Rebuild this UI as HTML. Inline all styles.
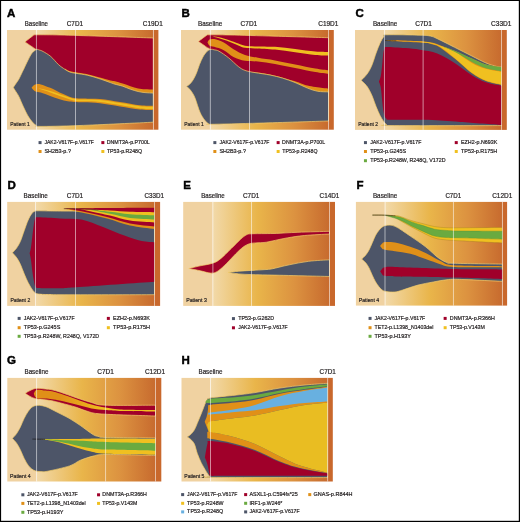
<!DOCTYPE html>
<html><head><meta charset="utf-8"><style>
html,body{margin:0;padding:0;background:#fff;width:520px;height:522px;overflow:hidden}
svg{display:block}
text{font-family:"Liberation Sans",sans-serif}
svg{will-change:transform}
</style></head><body>
<svg width="520" height="522" viewBox="0 0 520 522">
<defs><linearGradient id="gOY" x1="60" y1="0" x2="106" y2="0" gradientUnits="userSpaceOnUse"><stop offset="0" stop-color="#e09018"/><stop offset="1" stop-color="#f0c020"/></linearGradient><linearGradient id="g1" x1="36.50" y1="0" x2="153.85" y2="0" gradientUnits="userSpaceOnUse"><stop offset="0" stop-color="#f2d9a9"/><stop offset="0.38" stop-color="#e9b54a"/><stop offset="0.7" stop-color="#dc9240"/><stop offset="1" stop-color="#c76a2e"/></linearGradient><linearGradient id="g2" x1="210.30" y1="0" x2="328.95" y2="0" gradientUnits="userSpaceOnUse"><stop offset="0" stop-color="#f2d9a9"/><stop offset="0.38" stop-color="#e9b54a"/><stop offset="0.7" stop-color="#dc9240"/><stop offset="1" stop-color="#c76a2e"/></linearGradient><linearGradient id="g3" x1="384.20" y1="0" x2="501.95" y2="0" gradientUnits="userSpaceOnUse"><stop offset="0" stop-color="#f2d9a9"/><stop offset="0.38" stop-color="#e9b54a"/><stop offset="0.7" stop-color="#dc9240"/><stop offset="1" stop-color="#c76a2e"/></linearGradient><linearGradient id="g4" x1="35.70" y1="0" x2="154.95" y2="0" gradientUnits="userSpaceOnUse"><stop offset="0" stop-color="#f2d9a9"/><stop offset="0.38" stop-color="#e9b54a"/><stop offset="0.7" stop-color="#dc9240"/><stop offset="1" stop-color="#c76a2e"/></linearGradient><linearGradient id="g5" x1="212.80" y1="0" x2="329.95" y2="0" gradientUnits="userSpaceOnUse"><stop offset="0" stop-color="#f2d9a9"/><stop offset="0.38" stop-color="#e9b54a"/><stop offset="0.7" stop-color="#dc9240"/><stop offset="1" stop-color="#c76a2e"/></linearGradient><linearGradient id="g6" x1="385.20" y1="0" x2="502.85" y2="0" gradientUnits="userSpaceOnUse"><stop offset="0" stop-color="#f2d9a9"/><stop offset="0.38" stop-color="#e9b54a"/><stop offset="0.7" stop-color="#dc9240"/><stop offset="1" stop-color="#c76a2e"/></linearGradient><linearGradient id="g7" x1="36.80" y1="0" x2="155.95" y2="0" gradientUnits="userSpaceOnUse"><stop offset="0" stop-color="#f2d9a9"/><stop offset="0.38" stop-color="#e9b54a"/><stop offset="0.7" stop-color="#dc9240"/><stop offset="1" stop-color="#c76a2e"/></linearGradient><linearGradient id="g8" x1="210.30" y1="0" x2="328.05" y2="0" gradientUnits="userSpaceOnUse"><stop offset="0" stop-color="#f2d9a9"/><stop offset="0.38" stop-color="#e9b54a"/><stop offset="0.7" stop-color="#dc9240"/><stop offset="1" stop-color="#c76a2e"/></linearGradient></defs>
<rect x="0" y="0" width="520" height="522" fill="#000"/><rect x="1.1" y="1" width="517.7" height="519.8" fill="#fff"/>
<g transform="translate(7.02,16.50) scale(0.100)"><text x="0" y="0" font-size="115.00" font-weight="bold" fill="#000" text-anchor="start" stroke="#000" stroke-width="4.5">A</text></g><rect x="7.00" y="30.00" width="29.50" height="99.70" fill="#f0d2a1"/><rect x="36.50" y="30.00" width="117.35" height="99.70" fill="url(#g1)"/><rect x="153.85" y="30.00" width="4.55" height="99.70" fill="#c9682c"/><path d="M25.00,41.90 C26.47,40.75 32.33,36.15 33.80,35.00 C34.32,34.97 32.53,34.80 36.90,34.80 C41.27,34.80 49.48,34.77 60.00,35.00 C70.52,35.23 84.45,35.70 100.00,36.20 C115.55,36.70 144.42,37.70 153.30,38.00 L153.30,96.00 C137.75,93.33 78.05,86.00 60.00,80.00 C41.95,74.00 48.97,65.07 45.00,60.00 C41.03,54.93 37.67,51.33 36.20,49.60 C34.33,48.32 26.87,43.18 25.00,41.90 Z" fill="#a0002a" stroke="#f2cc6a" stroke-width="0.7"/><path d="M65.00,68.60 C65.83,69.03 66.28,70.27 70.00,71.20 C73.72,72.13 82.50,73.18 87.30,74.20 C92.10,75.22 94.95,76.25 98.80,77.30 C102.65,78.35 107.70,79.85 110.40,80.50 C113.10,81.15 112.95,80.70 115.00,81.20 C117.05,81.70 120.13,82.67 122.70,83.50 C125.27,84.33 127.83,85.37 130.40,86.20 C132.97,87.03 135.67,87.98 138.10,88.50 C140.53,89.02 142.47,89.12 145.00,89.30 C147.53,89.48 151.92,89.55 153.30,89.60 L153.30,94.10 C151.92,94.02 147.53,93.87 145.00,93.60 C142.47,93.33 140.53,93.07 138.10,92.50 C135.67,91.93 132.97,91.08 130.40,90.20 C127.83,89.32 125.27,88.03 122.70,87.20 C120.13,86.37 117.05,85.80 115.00,85.20 C112.95,84.60 113.10,84.55 110.40,83.60 C107.70,82.65 102.65,80.73 98.80,79.50 C94.95,78.27 92.10,77.27 87.30,76.20 C82.50,75.13 73.72,74.07 70.00,73.10 C66.28,72.13 65.83,70.85 65.00,70.40 Z" fill="#e09018"/><path d="M13.30,87.50 C13.63,86.98 14.38,85.78 15.30,84.40 C16.22,83.02 17.65,81.22 18.80,79.20 C19.95,77.18 21.37,74.00 22.20,72.30 C23.03,70.60 22.88,70.92 23.80,69.00 C24.72,67.08 26.42,63.33 27.70,60.80 C28.98,58.27 30.08,55.67 31.50,53.80 C32.92,51.93 34.92,50.23 36.20,49.60 C37.48,48.97 38.05,49.68 39.20,50.00 C40.35,50.32 41.17,50.42 43.10,51.50 C45.03,52.58 48.23,54.32 50.80,56.50 C53.37,58.68 56.13,62.45 58.50,64.60 C60.87,66.75 63.08,68.15 65.00,69.40 C66.92,70.65 68.20,71.45 70.00,72.10 C71.80,72.75 72.92,72.78 75.80,73.30 C78.68,73.82 83.47,74.33 87.30,75.20 C91.13,76.07 94.95,77.27 98.80,78.50 C102.65,79.73 107.70,81.65 110.40,82.60 C113.10,83.55 112.95,83.60 115.00,84.20 C117.05,84.80 120.13,85.37 122.70,86.20 C125.27,87.03 127.83,88.32 130.40,89.20 C132.97,90.08 135.67,90.93 138.10,91.50 C140.53,92.07 142.47,92.33 145.00,92.60 C147.53,92.87 151.92,93.02 153.30,93.10 L153.30,122.20 C141.08,122.75 98.88,124.80 80.00,125.50 C61.12,126.20 47.33,126.45 40.00,126.40 C32.67,126.35 37.23,125.88 36.00,125.20 C34.77,124.52 33.93,123.83 32.60,122.30 C31.27,120.77 29.53,118.58 28.00,116.00 C26.47,113.42 24.93,110.07 23.40,106.80 C21.87,103.53 20.15,99.08 18.80,96.40 C17.45,93.72 16.22,92.18 15.30,90.70 C14.38,89.22 13.63,88.03 13.30,87.50 Z" fill="#4d5568" stroke="#f2cc6a" stroke-width="0.7"/><path d="M31.60,87.80 C31.92,87.43 32.77,86.18 33.50,85.60 C34.23,85.02 34.78,84.50 36.00,84.30 C37.22,84.10 38.43,83.82 40.80,84.40 C43.17,84.98 47.07,86.45 50.20,87.80 C53.33,89.15 56.68,91.15 59.60,92.50 C62.52,93.85 65.23,94.98 67.70,95.90 C70.17,96.82 71.72,97.55 74.40,98.00 C77.08,98.45 79.53,98.43 83.80,98.60 C88.07,98.77 93.97,98.43 100.00,99.00 C106.03,99.57 113.33,100.95 120.00,102.00 C126.67,103.05 134.45,104.67 140.00,105.30 C145.55,105.93 151.08,105.72 153.30,105.80 L153.30,110.00 C151.08,109.90 145.55,110.00 140.00,109.40 C134.45,108.80 126.67,107.42 120.00,106.40 C113.33,105.38 106.03,103.98 100.00,103.30 C93.97,102.62 88.07,102.53 83.80,102.30 C79.53,102.07 77.08,102.08 74.40,101.90 C71.72,101.72 70.17,101.65 67.70,101.20 C65.23,100.75 62.52,100.08 59.60,99.20 C56.68,98.32 53.33,97.02 50.20,95.90 C47.07,94.78 43.17,93.20 40.80,92.50 C38.43,91.80 37.22,92.12 36.00,91.70 C34.78,91.28 34.23,90.65 33.50,90.00 C32.77,89.35 31.92,88.17 31.60,87.80 Z" fill="#e09018"/><path d="M36.70,87.80 C38.95,88.33 45.72,89.70 50.20,91.00 C54.68,92.30 59.57,94.25 63.60,95.60 C67.63,96.95 71.03,98.43 74.40,99.10 C77.77,99.77 79.53,99.43 83.80,99.60 C88.07,99.77 93.97,99.52 100.00,100.10 C106.03,100.68 113.33,102.07 120.00,103.10 C126.67,104.13 134.45,105.70 140.00,106.30 C145.55,106.90 151.08,106.63 153.30,106.70 L153.30,109.10 C151.08,108.98 145.55,109.07 140.00,108.40 C134.45,107.73 126.67,106.18 120.00,105.10 C113.33,104.02 106.03,102.55 100.00,101.90 C93.97,101.25 88.07,101.40 83.80,101.20 C79.53,101.00 77.77,101.35 74.40,100.70 C71.03,100.05 67.63,98.68 63.60,97.30 C59.57,95.92 54.68,93.98 50.20,92.40 C45.72,90.82 38.95,88.57 36.70,87.80 Z" fill="#f0c020"/><rect x="35.95" y="30.00" width="0.9" height="99.70" fill="#ffffff" opacity="0.6"/><rect x="75.05" y="30.00" width="0.9" height="99.70" fill="#ffffff" opacity="0.6"/><rect x="152.95" y="30.00" width="0.9" height="99.70" fill="#ffffff" opacity="0.6"/><g transform="translate(24.70,25.80) scale(0.100)"><text x="0" y="0" font-size="65.00" font-weight="normal" fill="#231f20" text-anchor="start" textLength="233.00" lengthAdjust="spacingAndGlyphs" stroke="#231f20" stroke-width="2.0">Baseline</text></g><g transform="translate(66.80,25.80) scale(0.100)"><text x="0" y="0" font-size="65.00" font-weight="normal" fill="#231f20" text-anchor="start" textLength="162.00" lengthAdjust="spacingAndGlyphs" stroke="#231f20" stroke-width="2.0">C7D1</text></g><g transform="translate(142.80,25.80) scale(0.100)"><text x="0" y="0" font-size="65.00" font-weight="normal" fill="#231f20" text-anchor="start" textLength="199.00" lengthAdjust="spacingAndGlyphs" stroke="#231f20" stroke-width="2.0">C19D1</text></g><g transform="translate(10.20,126.20) scale(0.100)"><text x="0" y="0" font-size="54.00" font-weight="normal" fill="#231f20" text-anchor="start" textLength="195.00" lengthAdjust="spacingAndGlyphs" stroke="#231f20" stroke-width="2.0">Patient 1</text></g><rect x="38.55" y="141.10" width="3.0" height="3.0" fill="#4d5568"/><g transform="translate(44.40,143.85) scale(0.100)"><text x="0" y="0" font-size="56.00" font-weight="normal" fill="#231f20" text-anchor="start" textLength="494.00" lengthAdjust="spacingAndGlyphs" stroke="#231f20" stroke-width="2.0">JAK2-V617F-p.V617F</text></g><rect x="101.35" y="141.10" width="3.0" height="3.0" fill="#a0002a"/><g transform="translate(106.70,143.85) scale(0.100)"><text x="0" y="0" font-size="56.00" font-weight="normal" fill="#231f20" text-anchor="start" textLength="431.00" lengthAdjust="spacingAndGlyphs" stroke="#231f20" stroke-width="2.0">DNMT3A-p.P700L</text></g><rect x="38.55" y="150.00" width="3.0" height="3.0" fill="#e09018"/><g transform="translate(44.40,152.75) scale(0.100)"><text x="0" y="0" font-size="56.00" font-weight="normal" fill="#231f20" text-anchor="start" textLength="265.00" lengthAdjust="spacingAndGlyphs" stroke="#231f20" stroke-width="2.0">SH2B3-p.?</text></g><rect x="101.35" y="150.00" width="3.0" height="3.0" fill="#f0c020"/><g transform="translate(106.90,152.75) scale(0.100)"><text x="0" y="0" font-size="56.00" font-weight="normal" fill="#231f20" text-anchor="start" textLength="352.00" lengthAdjust="spacingAndGlyphs" stroke="#231f20" stroke-width="2.0">TP53-p.R248Q</text></g>
<g transform="translate(181.54,16.60) scale(0.100)"><text x="0" y="0" font-size="115.00" font-weight="bold" fill="#000" text-anchor="start" stroke="#000" stroke-width="4.5">B</text></g><rect x="181.00" y="30.00" width="29.30" height="99.70" fill="#f0d2a1"/><rect x="210.30" y="30.00" width="118.65" height="99.70" fill="url(#g2)"/><rect x="328.95" y="30.00" width="4.85" height="99.70" fill="#c9682c"/><path d="M198.40,41.50 C199.12,40.95 201.18,39.32 202.70,38.20 C204.22,37.08 206.70,35.37 207.50,34.80 C211.25,34.83 218.75,34.77 230.00,35.00 C241.25,35.23 258.58,35.75 275.00,36.20 C291.42,36.65 319.58,37.45 328.50,37.70 L328.50,96.00 C316.25,93.33 271.42,85.17 255.00,80.00 C238.58,74.83 237.43,70.07 230.00,65.00 C222.57,59.93 214.15,52.47 210.40,49.60 C206.65,46.73 208.78,48.67 207.50,47.80 C206.22,46.93 204.22,45.45 202.70,44.40 C201.18,43.35 199.12,41.98 198.40,41.50 Z" fill="#a0002a" stroke="#f2cc6a" stroke-width="0.7"/><path d="M250.00,71.80 C253.33,72.23 262.50,72.83 270.00,74.40 C277.50,75.98 288.75,79.38 295.00,81.25 C301.25,83.12 302.92,84.46 307.50,85.60 C312.08,86.74 319.00,87.62 322.50,88.10 C326.00,88.58 327.50,88.43 328.50,88.50 L328.50,92.50 C326.67,92.42 321.00,92.58 317.50,92.00 C314.00,91.42 311.25,90.45 307.50,89.00 C303.75,87.55 301.25,85.50 295.00,83.30 C288.75,81.10 277.50,77.43 270.00,75.80 C262.50,74.17 253.33,73.88 250.00,73.50 Z" fill="#e09018"/><path d="M186.50,86.50 C187.05,86.10 188.72,85.18 189.80,84.10 C190.88,83.02 191.92,81.77 193.00,80.00 C194.08,78.23 195.22,76.08 196.30,73.50 C197.38,70.92 198.42,67.22 199.50,64.50 C200.58,61.78 201.57,59.37 202.80,57.20 C204.03,55.03 205.55,52.82 206.90,51.50 C208.25,50.18 209.72,49.58 210.90,49.30 C212.08,49.02 212.65,49.48 214.00,49.80 C215.35,50.12 216.55,49.85 219.00,51.20 C221.45,52.55 225.48,55.35 228.70,57.90 C231.92,60.45 235.58,64.42 238.30,66.50 C241.02,68.58 242.22,69.38 245.00,70.40 C247.78,71.42 250.83,71.83 255.00,72.60 C259.17,73.37 265.42,74.08 270.00,75.00 C274.58,75.92 278.33,76.85 282.50,78.10 C286.67,79.35 290.83,80.83 295.00,82.50 C299.17,84.17 303.75,86.64 307.50,88.10 C311.25,89.56 314.00,90.62 317.50,91.25 C321.00,91.88 326.67,91.79 328.50,91.90 L328.50,121.00 C317.08,121.35 279.62,122.55 260.00,123.10 C240.38,123.65 219.38,124.18 210.80,124.30 C202.22,124.42 209.53,124.52 208.50,123.80 C207.47,123.08 206.02,121.92 204.60,120.00 C203.18,118.08 201.53,115.80 200.00,112.30 C198.47,108.80 196.57,102.07 195.40,99.00 C194.23,95.93 193.93,95.52 193.00,93.90 C192.07,92.28 190.88,90.53 189.80,89.30 C188.72,88.07 187.05,86.97 186.50,86.50 Z" fill="#4d5568" stroke="#f2cc6a" stroke-width="0.7"/><path d="M207.50,42.50 C207.82,42.02 208.28,40.17 209.40,39.60 C210.52,39.03 211.80,38.62 214.20,39.10 C216.60,39.58 220.58,40.82 223.80,42.50 C227.02,44.18 229.97,47.12 233.50,49.20 C237.03,51.28 240.92,53.57 245.00,55.00 C249.08,56.43 253.00,56.90 258.00,57.80 C263.00,58.70 268.80,59.30 275.00,60.40 C281.20,61.50 288.48,63.07 295.20,64.40 C301.92,65.73 309.75,67.43 315.30,68.40 C320.85,69.37 326.30,69.90 328.50,70.20 L328.50,73.80 C326.30,73.50 320.85,72.97 315.30,72.00 C309.75,71.03 301.92,69.33 295.20,68.00 C288.48,66.67 281.20,65.07 275.00,64.00 C268.80,62.93 263.00,62.13 258.00,61.60 C253.00,61.07 249.08,61.58 245.00,60.80 C240.92,60.02 237.03,58.67 233.50,56.90 C229.97,55.13 227.02,51.88 223.80,50.20 C220.58,48.52 216.60,47.60 214.20,46.80 C211.80,46.00 210.52,46.12 209.40,45.40 C208.28,44.68 207.82,42.98 207.50,42.50 Z" fill="#e09018"/><path d="M211.00,36.20 C212.33,36.37 216.05,36.57 219.00,37.20 C221.95,37.83 225.48,38.93 228.70,40.00 C231.92,41.07 235.58,42.63 238.30,43.60 C241.02,44.57 242.22,45.33 245.00,45.80 C247.78,46.27 250.00,46.23 255.00,46.40 C260.00,46.57 268.30,46.37 275.00,46.80 C281.70,47.23 288.48,48.20 295.20,49.00 C301.92,49.80 309.75,51.10 315.30,51.60 C320.85,52.10 326.30,51.93 328.50,52.00 L328.50,55.60 C326.30,55.50 320.85,55.57 315.30,55.00 C309.75,54.43 301.92,53.10 295.20,52.20 C288.48,51.30 281.70,50.23 275.00,49.60 C268.30,48.97 260.00,48.70 255.00,48.40 C250.00,48.10 247.78,48.30 245.00,47.80 C242.22,47.30 241.02,46.47 238.30,45.40 C235.58,44.33 231.92,42.60 228.70,41.40 C225.48,40.20 221.95,39.07 219.00,38.20 C216.05,37.33 212.33,36.53 211.00,36.20 Z" fill="#f0c020"/><rect x="209.85" y="30.00" width="0.9" height="99.70" fill="#ffffff" opacity="0.6"/><rect x="249.05" y="30.00" width="0.9" height="99.70" fill="#ffffff" opacity="0.6"/><rect x="328.05" y="30.00" width="0.9" height="99.70" fill="#ffffff" opacity="0.6"/><g transform="translate(197.90,25.80) scale(0.100)"><text x="0" y="0" font-size="65.00" font-weight="normal" fill="#231f20" text-anchor="start" textLength="244.00" lengthAdjust="spacingAndGlyphs" stroke="#231f20" stroke-width="2.0">Baseline</text></g><g transform="translate(240.60,25.80) scale(0.100)"><text x="0" y="0" font-size="65.00" font-weight="normal" fill="#231f20" text-anchor="start" textLength="166.00" lengthAdjust="spacingAndGlyphs" stroke="#231f20" stroke-width="2.0">C7D1</text></g><g transform="translate(318.20,25.80) scale(0.100)"><text x="0" y="0" font-size="65.00" font-weight="normal" fill="#231f20" text-anchor="start" textLength="202.00" lengthAdjust="spacingAndGlyphs" stroke="#231f20" stroke-width="2.0">C19D1</text></g><g transform="translate(184.20,126.20) scale(0.100)"><text x="0" y="0" font-size="54.00" font-weight="normal" fill="#231f20" text-anchor="start" textLength="195.00" lengthAdjust="spacingAndGlyphs" stroke="#231f20" stroke-width="2.0">Patient 1</text></g><rect x="213.35" y="141.10" width="3.0" height="3.0" fill="#4d5568"/><g transform="translate(219.40,143.85) scale(0.100)"><text x="0" y="0" font-size="56.00" font-weight="normal" fill="#231f20" text-anchor="start" textLength="501.00" lengthAdjust="spacingAndGlyphs" stroke="#231f20" stroke-width="2.0">JAK2-V617F-p.V617F</text></g><rect x="276.65" y="141.10" width="3.0" height="3.0" fill="#a0002a"/><g transform="translate(282.10,143.85) scale(0.100)"><text x="0" y="0" font-size="56.00" font-weight="normal" fill="#231f20" text-anchor="start" textLength="430.76" lengthAdjust="spacingAndGlyphs" stroke="#231f20" stroke-width="2.0">DNMT3A-p.P700L</text></g><rect x="213.35" y="150.00" width="3.0" height="3.0" fill="#e09018"/><g transform="translate(219.40,152.75) scale(0.100)"><text x="0" y="0" font-size="56.00" font-weight="normal" fill="#231f20" text-anchor="start" textLength="265.00" lengthAdjust="spacingAndGlyphs" stroke="#231f20" stroke-width="2.0">SH2B3-p.?</text></g><rect x="276.65" y="150.00" width="3.0" height="3.0" fill="#f0c020"/><g transform="translate(282.30,152.75) scale(0.100)"><text x="0" y="0" font-size="56.00" font-weight="normal" fill="#231f20" text-anchor="start" textLength="352.00" lengthAdjust="spacingAndGlyphs" stroke="#231f20" stroke-width="2.0">TP53-p.R248Q</text></g>
<g transform="translate(355.53,16.70) scale(0.100)"><text x="0" y="0" font-size="115.00" font-weight="bold" fill="#000" text-anchor="start" stroke="#000" stroke-width="4.5">C</text></g><rect x="355.00" y="30.00" width="29.20" height="99.90" fill="#f0d2a1"/><rect x="384.20" y="30.00" width="117.75" height="99.90" fill="url(#g3)"/><rect x="501.95" y="30.00" width="4.85" height="99.90" fill="#c9682c"/><path d="M361.10,80.20 C361.68,79.65 363.38,78.25 364.60,76.90 C365.82,75.55 367.13,74.17 368.40,72.10 C369.67,70.03 370.92,67.68 372.20,64.50 C373.48,61.32 374.82,56.52 376.10,53.00 C377.38,49.48 378.63,46.12 379.90,43.40 C381.17,40.68 382.58,38.13 383.70,36.70 C384.82,35.27 380.55,35.05 386.60,34.80 C392.65,34.55 412.70,34.98 420.00,35.20 C427.30,35.42 427.52,35.52 430.40,36.10 C433.28,36.68 433.27,36.83 437.30,38.70 C441.33,40.57 448.83,44.42 454.60,47.30 C460.37,50.18 466.70,53.40 471.90,56.00 C477.10,58.60 481.75,61.18 485.80,62.90 C489.85,64.62 493.58,65.63 496.20,66.30 C498.82,66.97 500.62,66.80 501.50,66.90 L501.50,125.60 C482.92,125.60 409.15,125.77 390.00,125.60 C370.85,125.43 387.65,125.28 386.60,124.60 C385.55,123.92 384.82,123.07 383.70,121.50 C382.58,119.93 381.17,117.68 379.90,115.20 C378.63,112.72 377.38,109.78 376.10,106.60 C374.82,103.42 373.48,99.13 372.20,96.10 C370.92,93.07 369.67,90.48 368.40,88.40 C367.13,86.32 365.82,84.97 364.60,83.60 C363.38,82.23 361.68,80.77 361.10,80.20 Z" fill="#4d5568" stroke="#f2cc6a" stroke-width="0.7"/><path d="M378.90,81.70 C379.22,80.75 380.25,78.87 380.80,76.00 C381.35,73.13 381.78,68.33 382.20,64.50 C382.62,60.67 382.88,55.72 383.30,53.00 C383.72,50.28 384.15,49.22 384.70,48.20 C385.25,47.18 383.22,46.93 386.60,46.90 C389.98,46.87 399.43,47.53 405.00,48.00 C410.57,48.47 414.62,48.80 420.00,49.70 C425.38,50.60 431.53,51.20 437.30,53.40 C443.07,55.60 448.83,59.25 454.60,62.90 C460.37,66.55 466.70,72.07 471.90,75.30 C477.10,78.53 480.87,80.57 485.80,82.30 C490.73,84.03 498.88,85.13 501.50,85.70 L501.50,125.00 C494.58,124.50 472.25,122.87 460.00,122.00 C447.75,121.13 439.67,120.17 428.00,119.80 C416.33,119.43 396.90,119.97 390.00,119.80 C383.10,119.63 387.48,119.40 386.60,118.80 C385.72,118.20 385.25,117.58 384.70,116.20 C384.15,114.82 383.72,113.05 383.30,110.50 C382.88,107.95 382.62,104.73 382.20,100.90 C381.78,97.07 381.35,90.70 380.80,87.50 C380.25,84.30 379.22,82.67 378.90,81.70 Z" fill="#a0002a"/><path d="M385.30,40.20 C386.42,40.18 389.05,40.07 392.00,40.10 C394.95,40.13 397.70,40.18 403.00,40.40 C408.30,40.62 418.98,41.03 423.80,41.40 C428.62,41.77 429.20,41.97 431.90,42.60 C434.60,43.23 436.22,43.83 440.00,45.20 C443.78,46.57 449.28,48.57 454.60,50.80 C459.92,53.03 466.70,56.32 471.90,58.60 C477.10,60.88 480.87,63.07 485.80,64.50 C490.73,65.93 498.88,66.75 501.50,67.20 L501.50,85.00 C498.88,84.33 490.73,82.95 485.80,81.00 C480.87,79.05 477.10,77.03 471.90,73.30 C466.70,69.57 459.92,62.92 454.60,58.60 C449.28,54.28 443.78,49.80 440.00,47.40 C436.22,45.00 434.60,44.97 431.90,44.20 C429.20,43.43 428.62,43.22 423.80,42.80 C418.98,42.38 408.30,41.95 403.00,41.70 C397.70,41.45 394.95,41.55 392.00,41.30 C389.05,41.05 386.42,40.38 385.30,40.20 Z" fill="#e09018"/><path d="M398.00,40.90 C400.00,40.92 405.70,40.85 410.00,41.00 C414.30,41.15 420.15,41.45 423.80,41.80 C427.45,42.15 429.20,42.43 431.90,43.10 C434.60,43.77 436.22,44.38 440.00,45.80 C443.78,47.22 449.28,48.75 454.60,51.60 C459.92,54.45 466.70,60.03 471.90,62.90 C477.10,65.77 480.87,67.30 485.80,68.80 C490.73,70.30 498.88,71.38 501.50,71.90 L501.50,84.50 C498.88,83.83 490.73,82.45 485.80,80.50 C480.87,78.55 477.10,76.55 471.90,72.80 C466.70,69.05 459.92,62.33 454.60,58.00 C449.28,53.67 443.78,49.18 440.00,46.80 C436.22,44.42 434.60,44.43 431.90,43.70 C429.20,42.97 427.45,42.80 423.80,42.40 C420.15,42.00 414.30,41.55 410.00,41.30 C405.70,41.05 400.00,40.97 398.00,40.90 Z" fill="#f0c020"/><path d="M385.30,40.50 C386.08,40.53 388.22,40.63 390.00,40.70 C391.78,40.77 395.00,40.87 396.00,40.90" fill="none" stroke="#3a3428" stroke-width="0.8" stroke-linecap="round"/><path d="M440.00,45.60 C442.43,46.47 449.28,48.63 454.60,50.80 C459.92,52.97 466.70,56.32 471.90,58.60 C477.10,60.88 480.87,63.07 485.80,64.50 C490.73,65.93 498.88,66.75 501.50,67.20 L501.50,71.20 C498.88,70.72 490.73,69.83 485.80,68.30 C480.87,66.77 477.10,64.75 471.90,62.00 C466.70,59.25 459.92,54.53 454.60,51.80 C449.28,49.07 442.43,46.63 440.00,45.60 Z" fill="#6aaa40"/><rect x="383.95" y="30.00" width="0.9" height="99.90" fill="#ffffff" opacity="0.6"/><rect x="422.65" y="30.00" width="0.9" height="99.90" fill="#ffffff" opacity="0.6"/><rect x="501.05" y="30.00" width="0.9" height="99.90" fill="#ffffff" opacity="0.6"/><g transform="translate(372.90,25.80) scale(0.100)"><text x="0" y="0" font-size="65.00" font-weight="normal" fill="#231f20" text-anchor="start" textLength="243.00" lengthAdjust="spacingAndGlyphs" stroke="#231f20" stroke-width="2.0">Baseline</text></g><g transform="translate(415.20,25.80) scale(0.100)"><text x="0" y="0" font-size="65.00" font-weight="normal" fill="#231f20" text-anchor="start" textLength="166.00" lengthAdjust="spacingAndGlyphs" stroke="#231f20" stroke-width="2.0">C7D1</text></g><g transform="translate(491.10,25.80) scale(0.100)"><text x="0" y="0" font-size="65.00" font-weight="normal" fill="#231f20" text-anchor="start" textLength="204.00" lengthAdjust="spacingAndGlyphs" stroke="#231f20" stroke-width="2.0">C33D1</text></g><g transform="translate(358.20,126.20) scale(0.100)"><text x="0" y="0" font-size="54.00" font-weight="normal" fill="#231f20" text-anchor="start" textLength="198.00" lengthAdjust="spacingAndGlyphs" stroke="#231f20" stroke-width="2.0">Patient 2</text></g><rect x="363.95" y="141.10" width="3.0" height="3.0" fill="#4d5568"/><g transform="translate(370.20,143.85) scale(0.100)"><text x="0" y="0" font-size="56.00" font-weight="normal" fill="#231f20" text-anchor="start" textLength="512.00" lengthAdjust="spacingAndGlyphs" stroke="#231f20" stroke-width="2.0">JAK2-V617F-p.V617F</text></g><rect x="454.75" y="141.10" width="3.0" height="3.0" fill="#a0002a"/><g transform="translate(461.00,143.85) scale(0.100)"><text x="0" y="0" font-size="56.00" font-weight="normal" fill="#231f20" text-anchor="start" textLength="363.00" lengthAdjust="spacingAndGlyphs" stroke="#231f20" stroke-width="2.0">EZH2-p.N693K</text></g><rect x="363.95" y="150.00" width="3.0" height="3.0" fill="#e09018"/><g transform="translate(370.20,152.75) scale(0.100)"><text x="0" y="0" font-size="56.00" font-weight="normal" fill="#231f20" text-anchor="start" textLength="360.00" lengthAdjust="spacingAndGlyphs" stroke="#231f20" stroke-width="2.0">TP53-p.G245S</text></g><rect x="454.75" y="150.00" width="3.0" height="3.0" fill="#f0c020"/><g transform="translate(461.00,152.75) scale(0.100)"><text x="0" y="0" font-size="56.00" font-weight="normal" fill="#231f20" text-anchor="start" textLength="363.00" lengthAdjust="spacingAndGlyphs" stroke="#231f20" stroke-width="2.0">TP53-p.R175H</text></g><rect x="363.95" y="159.20" width="3.0" height="3.0" fill="#6aaa40"/><g transform="translate(370.20,161.95) scale(0.100)"><text x="0" y="0" font-size="56.00" font-weight="normal" fill="#231f20" text-anchor="start" textLength="754.00" lengthAdjust="spacingAndGlyphs" stroke="#231f20" stroke-width="2.0">TP53-p.R248W, R248Q, V172D</text></g>
<g transform="translate(7.44,188.50) scale(0.100)"><text x="0" y="0" font-size="115.00" font-weight="bold" fill="#000" text-anchor="start" stroke="#000" stroke-width="4.5">D</text></g><rect x="7.20" y="201.90" width="28.50" height="104.00" fill="#f0d2a1"/><rect x="35.70" y="201.90" width="119.25" height="104.00" fill="url(#g4)"/><rect x="154.95" y="201.90" width="5.15" height="104.00" fill="#c9682c"/><path d="M12.40,252.80 C13.10,252.00 15.27,249.92 16.60,248.00 C17.93,246.08 19.13,244.18 20.40,241.30 C21.67,238.42 22.92,234.22 24.20,230.70 C25.48,227.18 26.82,223.07 28.10,220.20 C29.38,217.33 30.78,215.00 31.90,213.50 C33.02,212.00 33.68,211.65 34.80,211.20 C35.92,210.75 33.73,210.82 38.60,210.80 C43.47,210.78 44.68,211.02 64.00,211.10 C83.32,211.18 139.42,211.27 154.50,211.30 L154.50,294.70 C138.75,294.70 79.32,294.82 60.00,294.70 C40.68,294.58 42.80,294.37 38.60,294.00 C34.40,293.63 35.92,293.33 34.80,292.50 C33.68,291.67 33.02,290.67 31.90,289.00 C30.78,287.33 29.38,285.03 28.10,282.50 C26.82,279.97 25.48,276.83 24.20,273.80 C22.92,270.77 21.67,267.00 20.40,264.30 C19.13,261.60 17.93,259.52 16.60,257.60 C15.27,255.68 13.10,253.60 12.40,252.80 Z" fill="#4d5568" stroke="#f2cc6a" stroke-width="0.7"/><path d="M29.60,253.30 C29.82,252.42 30.45,250.80 30.90,248.00 C31.35,245.20 31.82,240.33 32.30,236.50 C32.78,232.67 33.30,228.03 33.80,225.00 C34.30,221.97 34.50,219.58 35.30,218.30 C36.10,217.02 34.48,217.28 38.60,217.30 C42.72,217.32 52.85,218.03 60.00,218.40 C67.15,218.77 74.33,218.07 81.50,219.50 C88.67,220.93 95.85,224.32 103.00,227.00 C110.15,229.68 117.97,233.27 124.40,235.60 C130.83,237.93 136.58,239.90 141.60,241.00 C146.62,242.10 152.35,242.00 154.50,242.20 L154.50,281.80 C141.45,282.72 91.95,286.22 76.20,287.30 C60.45,288.38 66.27,288.18 60.00,288.30 C53.73,288.42 42.72,288.35 38.60,288.00 C34.48,287.65 36.10,287.45 35.30,286.20 C34.50,284.95 34.30,283.05 33.80,280.50 C33.30,277.95 32.78,274.42 32.30,270.90 C31.82,267.38 31.35,262.33 30.90,259.40 C30.45,256.47 29.82,254.32 29.60,253.30 Z" fill="#a0002a"/><path d="M63.90,208.60 C65.83,208.57 71.35,208.47 75.50,208.40 C79.65,208.33 83.05,208.27 88.80,208.20 C94.55,208.13 99.05,208.07 110.00,208.00 C120.95,207.93 147.08,207.83 154.50,207.80 L154.50,229.00 C150.42,228.42 137.75,227.20 130.00,225.50 C122.25,223.80 114.87,220.72 108.00,218.80 C101.13,216.88 94.22,215.27 88.80,214.00 C83.38,212.73 79.65,212.10 75.50,211.20 C71.35,210.30 65.83,209.03 63.90,208.60 Z" fill="#e09018"/><path d="M63.90,208.60 C65.83,208.57 71.35,208.47 75.50,208.40 C79.65,208.33 83.05,208.27 88.80,208.20 C94.55,208.13 99.05,208.07 110.00,208.00 C120.95,207.93 147.08,207.83 154.50,207.80 L154.50,226.50 C150.42,226.00 137.75,225.03 130.00,223.50 C122.25,221.97 114.87,219.08 108.00,217.30 C101.13,215.52 94.22,213.98 88.80,212.80 C83.38,211.62 79.65,210.90 75.50,210.20 C71.35,209.50 65.83,208.87 63.90,208.60 Z" fill="#a0002a"/><path d="M80.00,209.00 C81.67,209.10 85.00,209.33 90.00,209.60 C95.00,209.87 103.33,210.23 110.00,210.60 C116.67,210.97 122.58,211.53 130.00,211.80 C137.42,212.07 150.42,212.13 154.50,212.20 L154.50,222.50 C150.42,222.17 137.42,221.67 130.00,220.50 C122.58,219.33 116.67,217.05 110.00,215.50 C103.33,213.95 95.00,212.28 90.00,211.20 C85.00,210.12 81.67,209.37 80.00,209.00 Z" fill="#f0c020"/><path d="M88.00,209.60 C91.67,209.97 103.00,211.03 110.00,211.80 C117.00,212.57 122.58,213.62 130.00,214.20 C137.42,214.78 150.42,215.12 154.50,215.30 L154.50,219.60 C150.42,219.33 137.42,218.97 130.00,218.00 C122.58,217.03 117.00,215.20 110.00,213.80 C103.00,212.40 91.67,210.30 88.00,209.60 Z" fill="#6aaa40"/><path d="M64.20,208.70 C66.00,208.70 71.03,208.62 75.00,208.70 C78.97,208.78 84.17,208.98 88.00,209.20 C91.83,209.42 96.33,209.87 98.00,210.00" fill="none" stroke="#4a2020" stroke-width="0.6" stroke-linecap="round"/><rect x="35.05" y="201.90" width="0.9" height="104.00" fill="#ffffff" opacity="0.6"/><rect x="75.05" y="201.90" width="0.9" height="104.00" fill="#ffffff" opacity="0.6"/><rect x="154.05" y="201.90" width="0.9" height="104.00" fill="#ffffff" opacity="0.6"/><g transform="translate(23.60,197.70) scale(0.100)"><text x="0" y="0" font-size="65.00" font-weight="normal" fill="#231f20" text-anchor="start" textLength="242.00" lengthAdjust="spacingAndGlyphs" stroke="#231f20" stroke-width="2.0">Baseline</text></g><g transform="translate(66.80,197.70) scale(0.100)"><text x="0" y="0" font-size="65.00" font-weight="normal" fill="#231f20" text-anchor="start" textLength="163.00" lengthAdjust="spacingAndGlyphs" stroke="#231f20" stroke-width="2.0">C7D1</text></g><g transform="translate(144.40,197.70) scale(0.100)"><text x="0" y="0" font-size="65.00" font-weight="normal" fill="#231f20" text-anchor="start" textLength="195.00" lengthAdjust="spacingAndGlyphs" stroke="#231f20" stroke-width="2.0">C33D1</text></g><g transform="translate(10.40,301.90) scale(0.100)"><text x="0" y="0" font-size="54.00" font-weight="normal" fill="#231f20" text-anchor="start" textLength="198.00" lengthAdjust="spacingAndGlyphs" stroke="#231f20" stroke-width="2.0">Patient 2</text></g><rect x="17.65" y="316.90" width="3.0" height="3.0" fill="#4d5568"/><g transform="translate(23.80,319.65) scale(0.100)"><text x="0" y="0" font-size="56.00" font-weight="normal" fill="#231f20" text-anchor="start" textLength="508.00" lengthAdjust="spacingAndGlyphs" stroke="#231f20" stroke-width="2.0">JAK2-V617F-p.V617F</text></g><rect x="106.85" y="316.90" width="3.0" height="3.0" fill="#a0002a"/><g transform="translate(113.10,319.65) scale(0.100)"><text x="0" y="0" font-size="56.00" font-weight="normal" fill="#231f20" text-anchor="start" textLength="369.00" lengthAdjust="spacingAndGlyphs" stroke="#231f20" stroke-width="2.0">EZH2-p.N693K</text></g><rect x="17.65" y="326.20" width="3.0" height="3.0" fill="#e09018"/><g transform="translate(23.80,328.95) scale(0.100)"><text x="0" y="0" font-size="56.00" font-weight="normal" fill="#231f20" text-anchor="start" textLength="365.00" lengthAdjust="spacingAndGlyphs" stroke="#231f20" stroke-width="2.0">TP53-p.G245S</text></g><rect x="106.85" y="326.20" width="3.0" height="3.0" fill="#f0c020"/><g transform="translate(113.10,328.95) scale(0.100)"><text x="0" y="0" font-size="56.00" font-weight="normal" fill="#231f20" text-anchor="start" textLength="369.00" lengthAdjust="spacingAndGlyphs" stroke="#231f20" stroke-width="2.0">TP53-p.R175H</text></g><rect x="17.65" y="334.80" width="3.0" height="3.0" fill="#6aaa40"/><g transform="translate(23.80,337.55) scale(0.100)"><text x="0" y="0" font-size="56.00" font-weight="normal" fill="#231f20" text-anchor="start" textLength="754.00" lengthAdjust="spacingAndGlyphs" stroke="#231f20" stroke-width="2.0">TP53-p.R248W, R248Q, V172D</text></g>
<g transform="translate(183.24,188.50) scale(0.100)"><text x="0" y="0" font-size="115.00" font-weight="bold" fill="#000" text-anchor="start" stroke="#000" stroke-width="4.5">E</text></g><rect x="183.20" y="201.90" width="29.60" height="104.00" fill="#f0d2a1"/><rect x="212.80" y="201.90" width="117.15" height="104.00" fill="url(#g5)"/><rect x="329.95" y="201.90" width="5.05" height="104.00" fill="#c9682c"/><path d="M188.80,268.50 C190.73,268.05 196.42,266.68 200.40,265.80 C204.38,264.92 209.37,264.35 212.70,263.20 C216.03,262.05 217.32,261.33 220.40,258.90 C223.48,256.47 227.87,251.85 231.20,248.60 C234.53,245.35 237.85,241.70 240.40,239.40 C242.95,237.10 244.70,235.73 246.50,234.80 C248.30,233.87 248.12,234.00 251.20,233.80 C254.28,233.60 260.78,233.67 265.00,233.60 C269.22,233.53 271.02,233.62 276.50,233.40 C281.98,233.18 289.07,232.65 297.90,232.30 C306.73,231.95 324.23,231.47 329.50,231.30 L329.50,234.00 C325.32,234.25 311.45,234.85 304.40,235.50 C297.35,236.15 292.57,236.98 287.20,237.90 C281.83,238.82 275.90,240.25 272.20,241.00 C268.50,241.75 267.73,242.08 265.00,242.40 C262.27,242.72 258.37,242.68 255.80,242.90 C253.23,243.12 251.65,243.05 249.60,243.70 C247.55,244.35 245.80,245.12 243.50,246.80 C241.20,248.48 238.63,251.02 235.80,253.80 C232.97,256.58 229.33,260.73 226.50,263.50 C223.67,266.27 220.97,268.82 218.80,270.40 C216.63,271.98 215.28,272.62 213.50,273.00 C211.72,273.38 210.28,273.07 208.10,272.70 C205.92,272.33 203.62,271.50 200.40,270.80 C197.18,270.10 190.73,268.88 188.80,268.50 Z" fill="#a0002a" stroke="#f2cc6a" stroke-width="0.7"/><path d="M228.10,272.40 C229.88,272.20 234.90,271.53 238.80,271.20 C242.70,270.87 247.13,270.67 251.50,270.40 C255.87,270.13 261.55,269.87 265.00,269.60 C268.45,269.33 268.15,269.60 272.20,268.80 C276.25,268.00 283.22,266.05 289.30,264.80 C295.38,263.55 302.00,262.13 308.70,261.30 C315.40,260.47 326.03,260.05 329.50,259.80 L329.50,276.50 C318.75,276.23 278.00,275.22 265.00,274.90 C252.00,274.58 255.87,274.77 251.50,274.60 C247.13,274.43 242.70,274.27 238.80,273.90 C234.90,273.53 229.88,272.65 228.10,272.40 Z" fill="#4d5568" stroke="#f2cc6a" stroke-width="0.7"/><rect x="212.45" y="201.90" width="0.9" height="104.00" fill="#ffffff" opacity="0.6"/><rect x="251.05" y="201.90" width="0.9" height="104.00" fill="#ffffff" opacity="0.6"/><rect x="329.05" y="201.90" width="0.9" height="104.00" fill="#ffffff" opacity="0.6"/><g transform="translate(201.20,197.70) scale(0.100)"><text x="0" y="0" font-size="65.00" font-weight="normal" fill="#231f20" text-anchor="start" textLength="235.00" lengthAdjust="spacingAndGlyphs" stroke="#231f20" stroke-width="2.0">Baseline</text></g><g transform="translate(243.00,197.70) scale(0.100)"><text x="0" y="0" font-size="65.00" font-weight="normal" fill="#231f20" text-anchor="start" textLength="163.00" lengthAdjust="spacingAndGlyphs" stroke="#231f20" stroke-width="2.0">C7D1</text></g><g transform="translate(319.60,197.70) scale(0.100)"><text x="0" y="0" font-size="65.00" font-weight="normal" fill="#231f20" text-anchor="start" textLength="198.00" lengthAdjust="spacingAndGlyphs" stroke="#231f20" stroke-width="2.0">C14D1</text></g><g transform="translate(186.20,301.90) scale(0.100)"><text x="0" y="0" font-size="54.00" font-weight="normal" fill="#231f20" text-anchor="start" textLength="206.00" lengthAdjust="spacingAndGlyphs" stroke="#231f20" stroke-width="2.0">Patient 3</text></g><rect x="231.95" y="317.10" width="3.0" height="3.0" fill="#4d5568"/><g transform="translate(238.20,319.85) scale(0.100)"><text x="0" y="0" font-size="56.00" font-weight="normal" fill="#231f20" text-anchor="start" textLength="360.00" lengthAdjust="spacingAndGlyphs" stroke="#231f20" stroke-width="2.0">TP53-p.G262D</text></g><rect x="231.95" y="326.30" width="3.0" height="3.0" fill="#a0002a"/><g transform="translate(238.20,329.05) scale(0.100)"><text x="0" y="0" font-size="56.00" font-weight="normal" fill="#231f20" text-anchor="start" textLength="495.00" lengthAdjust="spacingAndGlyphs" stroke="#231f20" stroke-width="2.0">JAK2-V617F-p.V617F</text></g>
<g transform="translate(356.44,188.50) scale(0.100)"><text x="0" y="0" font-size="115.00" font-weight="bold" fill="#000" text-anchor="start" stroke="#000" stroke-width="4.5">F</text></g><rect x="355.90" y="201.90" width="29.30" height="103.70" fill="#f0d2a1"/><rect x="385.20" y="201.90" width="117.65" height="103.70" fill="url(#g6)"/><rect x="502.85" y="201.90" width="4.25" height="103.70" fill="#c9682c"/><path d="M361.70,259.00 C362.38,258.32 364.58,256.40 365.80,254.90 C367.02,253.40 367.92,252.03 369.00,250.00 C370.08,247.97 371.22,245.13 372.30,242.70 C373.38,240.27 374.42,237.43 375.50,235.40 C376.58,233.37 377.72,231.87 378.80,230.50 C379.88,229.13 380.78,228.05 382.00,227.20 C383.22,226.35 383.93,225.55 386.10,225.40 C388.27,225.25 390.97,224.52 395.00,226.30 C399.03,228.08 405.20,232.68 410.30,236.10 C415.40,239.52 421.00,243.23 425.60,246.80 C430.20,250.37 434.32,254.87 437.90,257.50 C441.48,260.13 444.50,261.63 447.10,262.60 C449.70,263.57 444.28,263.05 453.50,263.30 C462.72,263.55 494.25,263.97 502.40,264.10 L502.40,281.40 C496.17,281.10 473.97,279.92 465.00,279.60 C456.03,279.28 453.88,279.10 448.60,279.50 C443.32,279.90 438.40,281.07 433.30,282.00 C428.20,282.93 423.10,283.77 418.00,285.10 C412.90,286.43 406.53,288.85 402.70,290.00 C398.87,291.15 397.77,291.75 395.00,292.00 C392.23,292.25 388.27,291.85 386.10,291.50 C383.93,291.15 383.22,290.72 382.00,289.90 C380.78,289.08 379.88,287.95 378.80,286.60 C377.72,285.25 376.58,283.68 375.50,281.80 C374.42,279.92 373.38,277.62 372.30,275.30 C371.22,272.98 370.08,269.95 369.00,267.90 C367.92,265.85 367.02,264.48 365.80,263.00 C364.58,261.52 362.38,259.67 361.70,259.00 Z" fill="#4d5568" stroke="#f2cc6a" stroke-width="0.7"/><path d="M380.10,245.90 C380.55,245.37 382.35,243.23 382.80,242.70 C383.35,242.57 384.07,241.92 386.10,241.90 C388.13,241.88 390.97,241.78 395.00,242.60 C399.03,243.42 405.20,245.08 410.30,246.80 C415.40,248.52 420.48,250.48 425.60,252.90 C430.72,255.32 436.35,259.23 441.00,261.30 C445.65,263.37 443.27,264.48 453.50,265.30 C463.73,266.12 494.25,266.05 502.40,266.20 L502.40,267.30 C494.25,267.23 463.73,267.38 453.50,266.90 C443.27,266.42 445.65,265.72 441.00,264.40 C436.35,263.08 430.72,260.78 425.60,259.00 C420.48,257.22 415.40,255.00 410.30,253.70 C405.20,252.40 399.03,251.82 395.00,251.20 C390.97,250.58 388.13,250.33 386.10,250.00 C384.07,249.67 383.35,249.33 382.80,249.20 C382.35,248.65 380.55,246.45 380.10,245.90 Z" fill="#e09018"/><path d="M380.10,271.20 C380.55,270.65 382.35,268.45 382.80,267.90 C383.35,267.77 384.07,267.25 386.10,267.10 C388.13,266.95 383.77,266.68 395.00,267.00 C406.23,267.32 435.60,268.60 453.50,269.00 C471.40,269.40 494.25,269.33 502.40,269.40 L502.40,279.20 C494.25,278.93 471.40,278.05 453.50,277.60 C435.60,277.15 406.23,276.75 395.00,276.50 C383.77,276.25 388.13,276.30 386.10,276.10 C384.07,275.90 383.35,275.43 382.80,275.30 C382.35,274.62 380.55,271.88 380.10,271.20 Z" fill="#a0002a"/><path d="M372.70,215.10 C374.62,215.10 380.68,215.02 384.20,215.10 C387.72,215.18 391.17,215.38 393.80,215.60 C396.43,215.82 397.05,215.57 400.00,216.40 C402.95,217.23 407.65,219.38 411.50,220.60 C415.35,221.82 419.25,222.70 423.10,223.70 C426.95,224.70 430.75,225.93 434.60,226.60 C438.45,227.27 441.97,227.50 446.20,227.70 C450.43,227.90 450.63,227.85 460.00,227.80 C469.37,227.75 495.33,227.47 502.40,227.40 L502.40,243.00 C495.33,242.63 469.37,241.32 460.00,240.80 C450.63,240.28 450.43,240.35 446.20,239.90 C441.97,239.45 438.45,239.27 434.60,238.10 C430.75,236.93 426.95,234.75 423.10,232.90 C419.25,231.05 415.35,229.07 411.50,227.00 C407.65,224.93 402.95,222.17 400.00,220.50 C397.05,218.83 396.43,217.87 393.80,217.00 C391.17,216.13 387.72,215.62 384.20,215.30 C380.68,214.98 374.62,215.13 372.70,215.10 Z" fill="#f0c020" stroke="#9a7a20" stroke-width="0.35"/><path d="M385.00,215.30 C387.50,215.63 395.58,216.20 400.00,217.30 C404.42,218.40 407.65,220.52 411.50,221.90 C415.35,223.28 419.25,224.38 423.10,225.60 C426.95,226.82 430.75,228.40 434.60,229.20 C438.45,230.00 441.97,230.10 446.20,230.40 C450.43,230.70 450.63,230.87 460.00,231.00 C469.37,231.13 495.33,231.17 502.40,231.20 L502.40,239.20 C495.33,238.97 469.37,238.08 460.00,237.80 C450.63,237.52 450.43,237.78 446.20,237.50 C441.97,237.22 438.45,237.12 434.60,236.10 C430.75,235.08 426.95,233.08 423.10,231.40 C419.25,229.72 415.35,227.92 411.50,226.00 C407.65,224.08 404.42,221.68 400.00,219.90 C395.58,218.12 387.50,216.07 385.00,215.30 Z" fill="#6aaa40" stroke="#4a8a30" stroke-width="0.35"/><path d="M372.70,215.10 C374.75,215.12 381.28,215.08 385.00,215.20 C388.72,215.32 393.33,215.70 395.00,215.80" fill="none" stroke="#4a4428" stroke-width="0.7" stroke-linecap="round"/><rect x="384.55" y="201.90" width="0.9" height="103.70" fill="#ffffff" opacity="0.6"/><rect x="452.95" y="201.90" width="0.9" height="103.70" fill="#ffffff" opacity="0.6"/><rect x="501.95" y="201.90" width="0.9" height="103.70" fill="#ffffff" opacity="0.6"/><g transform="translate(372.90,197.70) scale(0.100)"><text x="0" y="0" font-size="65.00" font-weight="normal" fill="#231f20" text-anchor="start" textLength="243.00" lengthAdjust="spacingAndGlyphs" stroke="#231f20" stroke-width="2.0">Baseline</text></g><g transform="translate(445.40,197.70) scale(0.100)"><text x="0" y="0" font-size="65.00" font-weight="normal" fill="#231f20" text-anchor="start" textLength="158.00" lengthAdjust="spacingAndGlyphs" stroke="#231f20" stroke-width="2.0">C7D1</text></g><g transform="translate(492.20,197.70) scale(0.100)"><text x="0" y="0" font-size="65.00" font-weight="normal" fill="#231f20" text-anchor="start" textLength="201.00" lengthAdjust="spacingAndGlyphs" stroke="#231f20" stroke-width="2.0">C12D1</text></g><g transform="translate(358.80,301.90) scale(0.100)"><text x="0" y="0" font-size="54.00" font-weight="normal" fill="#231f20" text-anchor="start" textLength="204.00" lengthAdjust="spacingAndGlyphs" stroke="#231f20" stroke-width="2.0">Patient 4</text></g><rect x="368.55" y="316.90" width="3.0" height="3.0" fill="#4d5568"/><g transform="translate(374.50,319.65) scale(0.100)"><text x="0" y="0" font-size="56.00" font-weight="normal" fill="#231f20" text-anchor="start" textLength="507.00" lengthAdjust="spacingAndGlyphs" stroke="#231f20" stroke-width="2.0">JAK2-V617F-p.V617F</text></g><rect x="443.65" y="316.90" width="3.0" height="3.0" fill="#a0002a"/><g transform="translate(449.80,319.65) scale(0.100)"><text x="0" y="0" font-size="56.00" font-weight="normal" fill="#231f20" text-anchor="start" textLength="450.00" lengthAdjust="spacingAndGlyphs" stroke="#231f20" stroke-width="2.0">DNMT3A-p.R366H</text></g><rect x="368.55" y="326.20" width="3.0" height="3.0" fill="#e09018"/><g transform="translate(374.50,328.95) scale(0.100)"><text x="0" y="0" font-size="56.00" font-weight="normal" fill="#231f20" text-anchor="start" textLength="588.12" lengthAdjust="spacingAndGlyphs" stroke="#231f20" stroke-width="2.0">TET2-p.L1398_N1403del</text></g><rect x="443.65" y="326.20" width="3.0" height="3.0" fill="#f0c020"/><g transform="translate(449.80,328.95) scale(0.100)"><text x="0" y="0" font-size="56.00" font-weight="normal" fill="#231f20" text-anchor="start" textLength="350.00" lengthAdjust="spacingAndGlyphs" stroke="#231f20" stroke-width="2.0">TP53-p.V143M</text></g><rect x="368.55" y="334.80" width="3.0" height="3.0" fill="#6aaa40"/><g transform="translate(374.50,337.55) scale(0.100)"><text x="0" y="0" font-size="56.00" font-weight="normal" fill="#231f20" text-anchor="start" textLength="365.00" lengthAdjust="spacingAndGlyphs" stroke="#231f20" stroke-width="2.0">TP53-p.H193Y</text></g>
<g transform="translate(7.03,364.40) scale(0.100)"><text x="0" y="0" font-size="115.00" font-weight="bold" fill="#000" text-anchor="start" stroke="#000" stroke-width="4.5">G</text></g><rect x="7.30" y="377.90" width="29.50" height="103.60" fill="#f0d2a1"/><rect x="36.80" y="377.90" width="119.15" height="103.60" fill="url(#g7)"/><rect x="155.95" y="377.90" width="5.35" height="103.60" fill="#c9682c"/><path d="M25.20,393.30 C26.00,392.85 28.23,391.42 30.00,390.60 C31.77,389.78 33.23,388.67 35.80,388.40 C38.37,388.13 42.70,388.77 45.40,389.00 C48.10,389.23 49.43,389.25 52.00,389.80 C54.57,390.35 56.77,390.98 60.80,392.30 C64.83,393.62 71.08,396.00 76.20,397.70 C81.32,399.40 86.63,401.25 91.50,402.50 C96.37,403.75 94.73,404.75 105.40,405.20 C116.07,405.65 147.15,405.20 155.50,405.20 L155.50,416.00 C147.15,415.70 116.32,414.83 105.40,414.20 C94.48,413.57 94.87,413.35 90.00,412.20 C85.13,411.05 81.07,408.83 76.20,407.30 C71.33,405.77 64.83,404.08 60.80,403.00 C56.77,401.92 54.57,401.33 52.00,400.80 C49.43,400.27 48.10,400.15 45.40,399.80 C42.70,399.45 38.37,399.27 35.80,398.70 C33.23,398.13 31.77,397.30 30.00,396.40 C28.23,395.50 26.00,393.82 25.20,393.30 Z" fill="#a0002a" stroke="#f2cc6a" stroke-width="0.7"/><path d="M33.80,393.80 C34.23,393.15 34.47,390.43 36.40,389.90 C38.33,389.37 42.80,390.37 45.40,390.60 C48.00,390.83 49.43,390.77 52.00,391.30 C54.57,391.83 56.77,392.48 60.80,393.80 C64.83,395.12 71.08,397.40 76.20,399.20 C81.32,401.00 86.63,403.20 91.50,404.60 C96.37,406.00 100.65,406.80 105.40,407.60 C110.15,408.40 111.65,409.00 120.00,409.40 C128.35,409.80 149.58,409.90 155.50,410.00 L155.50,411.40 C149.58,411.32 128.35,411.13 120.00,410.90 C111.65,410.67 110.15,410.42 105.40,410.00 C100.65,409.58 96.37,409.32 91.50,408.40 C86.63,407.48 81.32,405.77 76.20,404.50 C71.08,403.23 64.83,401.67 60.80,400.80 C56.77,399.93 54.57,399.68 52.00,399.30 C49.43,398.92 48.00,398.73 45.40,398.50 C42.80,398.27 38.33,398.68 36.40,397.90 C34.47,397.12 34.23,394.48 33.80,393.80 Z" fill="url(#gOY)"/><path d="M12.40,438.40 C13.10,437.60 15.27,435.52 16.60,433.60 C17.93,431.68 19.13,429.45 20.40,426.90 C21.67,424.35 22.92,420.85 24.20,418.30 C25.48,415.75 26.82,413.45 28.10,411.60 C29.38,409.75 30.52,408.23 31.90,407.20 C33.28,406.17 34.68,405.65 36.40,405.40 C38.12,405.15 40.27,405.35 42.20,405.70 C44.13,406.05 46.03,406.68 48.00,407.50 C49.97,408.32 51.67,409.42 54.00,410.60 C56.33,411.78 59.33,413.23 62.00,414.60 C64.67,415.97 66.87,416.93 70.00,418.80 C73.13,420.67 76.95,423.17 80.80,425.80 C84.65,428.43 90.07,432.80 93.10,434.60 C96.13,436.40 96.88,436.12 99.00,436.60 C101.12,437.08 96.38,437.27 105.80,437.50 C115.22,437.73 147.22,437.92 155.50,438.00 L155.50,455.40 C147.22,455.25 116.20,454.38 105.80,454.50 C95.40,454.62 97.40,455.12 93.10,456.10 C88.80,457.08 83.92,458.77 80.00,460.40 C76.08,462.03 74.98,464.10 69.60,465.90 C64.22,467.70 52.55,470.25 47.70,471.20 C42.85,472.15 42.50,471.63 40.50,471.60 C38.50,471.57 37.13,471.42 35.70,471.00 C34.27,470.58 33.17,470.07 31.90,469.10 C30.63,468.13 29.38,466.97 28.10,465.20 C26.82,463.43 25.48,461.05 24.20,458.50 C22.92,455.95 21.67,452.45 20.40,449.90 C19.13,447.35 17.93,445.12 16.60,443.20 C15.27,441.28 13.10,439.20 12.40,438.40 Z" fill="#4d5568" stroke="#f2cc6a" stroke-width="0.7"/><path d="M32.80,439.00 C34.63,439.02 39.27,439.10 43.80,439.10 C48.33,439.10 54.60,439.03 60.00,439.00 C65.40,438.97 71.20,438.95 76.20,438.90 C81.20,438.85 85.07,438.75 90.00,438.70 C94.93,438.65 94.88,438.58 105.80,438.60 C116.72,438.62 147.22,438.77 155.50,438.80 L155.50,454.80 C147.22,454.63 116.72,454.38 105.80,453.80 C94.88,453.22 94.93,452.33 90.00,451.30 C85.07,450.27 81.20,449.07 76.20,447.60 C71.20,446.13 65.40,443.87 60.00,442.50 C54.60,441.13 48.33,439.98 43.80,439.40 C39.27,438.82 34.63,439.07 32.80,439.00 Z" fill="#f0c020"/><path d="M43.80,439.20 C46.50,439.32 54.60,439.67 60.00,439.90 C65.40,440.13 71.20,440.37 76.20,440.60 C81.20,440.83 85.07,441.07 90.00,441.30 C94.93,441.53 94.88,441.68 105.80,442.00 C116.72,442.32 147.22,443.00 155.50,443.20 L155.50,450.80 C147.22,450.60 116.72,450.07 105.80,449.60 C94.88,449.13 94.93,448.68 90.00,448.00 C85.07,447.32 81.20,446.53 76.20,445.50 C71.20,444.47 65.40,442.85 60.00,441.80 C54.60,440.75 46.50,439.63 43.80,439.20 Z" fill="#6aaa40"/><path d="M32.80,439.10 C33.67,439.11 36.05,439.12 38.00,439.15 C39.95,439.18 43.42,439.27 44.50,439.30" fill="none" stroke="#222428" stroke-width="0.9" stroke-linecap="round"/><rect x="36.15" y="377.90" width="0.9" height="103.60" fill="#ffffff" opacity="0.6"/><rect x="105.15" y="377.90" width="0.9" height="103.60" fill="#ffffff" opacity="0.6"/><rect x="155.05" y="377.90" width="0.9" height="103.60" fill="#ffffff" opacity="0.6"/><g transform="translate(24.50,373.70) scale(0.100)"><text x="0" y="0" font-size="65.00" font-weight="normal" fill="#231f20" text-anchor="start" textLength="239.00" lengthAdjust="spacingAndGlyphs" stroke="#231f20" stroke-width="2.0">Baseline</text></g><g transform="translate(97.20,373.70) scale(0.100)"><text x="0" y="0" font-size="65.00" font-weight="normal" fill="#231f20" text-anchor="start" textLength="166.00" lengthAdjust="spacingAndGlyphs" stroke="#231f20" stroke-width="2.0">C7D1</text></g><g transform="translate(144.90,373.70) scale(0.100)"><text x="0" y="0" font-size="65.00" font-weight="normal" fill="#231f20" text-anchor="start" textLength="202.00" lengthAdjust="spacingAndGlyphs" stroke="#231f20" stroke-width="2.0">C12D1</text></g><g transform="translate(10.10,478.20) scale(0.100)"><text x="0" y="0" font-size="54.00" font-weight="normal" fill="#231f20" text-anchor="start" textLength="206.00" lengthAdjust="spacingAndGlyphs" stroke="#231f20" stroke-width="2.0">Patient 4</text></g><rect x="21.35" y="493.30" width="3.0" height="3.0" fill="#4d5568"/><g transform="translate(26.90,496.05) scale(0.100)"><text x="0" y="0" font-size="56.00" font-weight="normal" fill="#231f20" text-anchor="start" textLength="508.00" lengthAdjust="spacingAndGlyphs" stroke="#231f20" stroke-width="2.0">JAK2-V617F-p.V617F</text></g><rect x="97.05" y="493.30" width="3.0" height="3.0" fill="#a0002a"/><g transform="translate(102.30,496.05) scale(0.100)"><text x="0" y="0" font-size="56.00" font-weight="normal" fill="#231f20" text-anchor="start" textLength="446.00" lengthAdjust="spacingAndGlyphs" stroke="#231f20" stroke-width="2.0">DNMT3A-p.R366H</text></g><rect x="21.35" y="501.90" width="3.0" height="3.0" fill="#e09018"/><g transform="translate(26.90,504.65) scale(0.100)"><text x="0" y="0" font-size="56.00" font-weight="normal" fill="#231f20" text-anchor="start" textLength="588.00" lengthAdjust="spacingAndGlyphs" stroke="#231f20" stroke-width="2.0">TET2-p.L1398_N1403del</text></g><rect x="97.05" y="501.90" width="3.0" height="3.0" fill="#f0c020"/><g transform="translate(102.30,504.65) scale(0.100)"><text x="0" y="0" font-size="56.00" font-weight="normal" fill="#231f20" text-anchor="start" textLength="350.00" lengthAdjust="spacingAndGlyphs" stroke="#231f20" stroke-width="2.0">TP53-p.V143M</text></g><rect x="21.35" y="510.80" width="3.0" height="3.0" fill="#6aaa40"/><g transform="translate(26.90,513.55) scale(0.100)"><text x="0" y="0" font-size="56.00" font-weight="normal" fill="#231f20" text-anchor="start" textLength="365.00" lengthAdjust="spacingAndGlyphs" stroke="#231f20" stroke-width="2.0">TP53-p.H193Y</text></g>
<g transform="translate(181.54,364.40) scale(0.100)"><text x="0" y="0" font-size="115.00" font-weight="bold" fill="#000" text-anchor="start" stroke="#000" stroke-width="4.5">H</text></g><rect x="181.50" y="377.90" width="28.80" height="103.60" fill="#f0d2a1"/><rect x="210.30" y="377.90" width="117.75" height="103.60" fill="url(#g8)"/><rect x="328.05" y="377.90" width="4.75" height="103.60" fill="#c9682c"/><path d="M187.10,437.00 C187.68,436.58 189.38,435.70 190.60,434.50 C191.82,433.30 193.13,432.03 194.40,429.80 C195.67,427.57 196.92,424.13 198.20,421.10 C199.48,418.07 200.98,414.42 202.10,411.60 C203.22,408.78 203.98,406.37 204.90,404.20 C205.82,402.03 207.15,399.53 207.60,398.60 C207.95,398.53 208.47,398.42 209.70,398.20 C210.93,397.98 210.78,397.80 215.00,397.30 C219.22,396.80 228.33,395.98 235.00,395.20 C241.67,394.42 247.50,393.80 255.00,392.60 C262.50,391.40 271.67,389.27 280.00,388.00 C288.33,386.73 297.07,385.78 305.00,385.00 C312.93,384.22 323.83,383.58 327.60,383.30 L327.60,477.60 C308.33,477.57 231.63,477.60 212.00,477.40 C192.37,477.20 210.48,476.93 209.80,476.40 C209.12,475.87 208.70,475.37 207.90,474.20 C207.10,473.03 206.12,471.32 205.00,469.40 C203.88,467.48 202.48,465.35 201.20,462.70 C199.92,460.05 198.43,456.60 197.30,453.50 C196.17,450.40 195.52,446.47 194.40,444.10 C193.28,441.73 191.82,440.48 190.60,439.30 C189.38,438.12 187.68,437.38 187.10,437.00 Z" fill="#4d5568" stroke="#f2cc6a" stroke-width="0.7"/><path d="M205.20,402.20 C206.05,401.65 205.33,399.72 210.30,398.90 C215.27,398.08 227.55,397.95 235.00,397.30 C242.45,396.65 247.50,396.13 255.00,395.00 C262.50,393.87 271.67,391.90 280.00,390.50 C288.33,389.10 297.07,387.63 305.00,386.60 C312.93,385.57 323.83,384.68 327.60,384.30 L327.60,386.20 C323.83,386.67 312.93,387.87 305.00,389.00 C297.07,390.13 288.33,391.40 280.00,393.00 C271.67,394.60 262.50,397.23 255.00,398.60 C247.50,399.97 242.45,400.47 235.00,401.20 C227.55,401.93 215.27,402.83 210.30,403.00 C205.33,403.17 206.05,402.33 205.20,402.20 Z" fill="#6aaa40"/><path d="M208.5,405.2 L207.6,412.3 L206.6,417 L204.7,421.8 L206.6,426.6 L208.5,431.4 L209,438.3 L214,438.8 L214,404.8 Z" fill="#e09018"/><path d="M208.30,405.30 C208.63,405.23 205.85,405.35 210.30,404.90 C214.75,404.45 227.55,403.45 235.00,402.60 C242.45,401.75 247.50,401.27 255.00,399.80 C262.50,398.33 271.67,395.47 280.00,393.80 C288.33,392.13 297.07,390.98 305.00,389.80 C312.93,388.62 323.83,387.22 327.60,386.70 L327.60,402.80 C323.83,403.17 312.93,403.80 305.00,405.00 C297.07,406.20 288.33,408.25 280.00,410.00 C271.67,411.75 262.50,414.15 255.00,415.50 C247.50,416.85 242.45,417.13 235.00,418.10 C227.55,419.07 214.75,420.88 210.30,421.30 C205.85,421.72 208.63,420.72 208.30,420.60 Z" fill="#e09018"/><path d="M208.50,413.20 C208.80,413.10 205.88,413.27 210.30,412.60 C214.72,411.93 227.55,410.47 235.00,409.20 C242.45,407.93 247.50,407.17 255.00,405.00 C262.50,402.83 271.67,398.57 280.00,396.20 C288.33,393.83 297.07,392.27 305.00,390.80 C312.93,389.33 323.83,387.97 327.60,387.40 L327.60,401.50 C323.83,401.75 312.93,402.25 305.00,403.00 C297.07,403.75 288.33,404.80 280.00,406.00 C271.67,407.20 262.50,409.22 255.00,410.20 C247.50,411.18 242.45,411.20 235.00,411.90 C227.55,412.60 214.72,414.18 210.30,414.40 C205.88,414.62 208.80,413.40 208.50,413.20 Z" fill="#68b0e0"/><path d="M207.30,432.20 C207.80,432.17 206.52,431.37 210.30,432.00 C214.08,432.63 222.55,434.00 230.00,436.00 C237.45,438.00 246.67,440.58 255.00,444.00 C263.33,447.42 272.50,452.93 280.00,456.50 C287.50,460.07 292.07,462.72 300.00,465.40 C307.93,468.08 323.00,471.40 327.60,472.60 L327.60,473.20 C323.00,472.33 307.93,469.95 300.00,468.00 C292.07,466.05 287.50,464.50 280.00,461.50 C272.50,458.50 263.33,453.17 255.00,450.00 C246.67,446.83 237.45,444.37 230.00,442.50 C222.55,440.63 214.08,439.48 210.30,438.80 C206.52,438.12 207.80,438.47 207.30,438.40 Z" fill="#e09018"/><path d="M207.10,424.70 C207.38,424.25 208.27,422.53 208.80,422.00 C209.33,421.47 205.93,422.15 210.30,421.50 C214.67,420.85 227.55,419.10 235.00,418.10 C242.45,417.10 247.50,416.85 255.00,415.50 C262.50,414.15 271.67,411.75 280.00,410.00 C288.33,408.25 297.07,406.20 305.00,405.00 C312.93,403.80 323.83,403.17 327.60,402.80 L327.60,472.60 C323.00,471.40 307.93,468.08 300.00,465.40 C292.07,462.72 287.50,460.07 280.00,456.50 C272.50,452.93 263.33,447.42 255.00,444.00 C246.67,440.58 237.45,438.00 230.00,436.00 C222.55,434.00 213.83,432.87 210.30,432.00 C206.77,431.13 209.33,432.02 208.80,430.80 C208.27,429.58 207.38,425.72 207.10,424.70 Z" fill="#e9bd22"/><path d="M204.90,457.60 C205.33,455.25 206.70,446.25 207.50,443.50 C208.30,440.75 205.95,441.05 209.70,441.10 C213.45,441.15 222.45,442.15 230.00,443.80 C237.55,445.45 246.67,447.92 255.00,451.00 C263.33,454.08 272.50,459.37 280.00,462.30 C287.50,465.23 292.07,466.72 300.00,468.60 C307.93,470.48 323.00,472.77 327.60,473.60 L327.60,475.80 C311.33,475.80 249.47,475.82 230.00,475.80 C210.53,475.78 214.23,476.12 210.80,475.70 C207.37,475.28 209.88,474.83 209.40,473.30 C208.92,471.77 208.38,468.47 207.90,466.50 C207.42,464.53 207.00,462.98 206.50,461.50 C206.00,460.02 205.17,458.25 204.90,457.60 Z" fill="#a0002a"/><rect x="210.05" y="377.90" width="0.9" height="103.60" fill="#ffffff" opacity="0.6"/><rect x="327.15" y="377.90" width="0.9" height="103.60" fill="#ffffff" opacity="0.6"/><g transform="translate(198.50,373.70) scale(0.100)"><text x="0" y="0" font-size="65.00" font-weight="normal" fill="#231f20" text-anchor="start" textLength="239.00" lengthAdjust="spacingAndGlyphs" stroke="#231f20" stroke-width="2.0">Baseline</text></g><g transform="translate(319.60,373.70) scale(0.100)"><text x="0" y="0" font-size="65.00" font-weight="normal" fill="#231f20" text-anchor="start" textLength="162.00" lengthAdjust="spacingAndGlyphs" stroke="#231f20" stroke-width="2.0">C7D1</text></g><g transform="translate(184.30,478.20) scale(0.100)"><text x="0" y="0" font-size="54.00" font-weight="normal" fill="#231f20" text-anchor="start" textLength="201.00" lengthAdjust="spacingAndGlyphs" stroke="#231f20" stroke-width="2.0">Patient 5</text></g><rect x="181.15" y="493.10" width="3.0" height="3.0" fill="#4d5568"/><g transform="translate(187.10,495.85) scale(0.100)"><text x="0" y="0" font-size="56.00" font-weight="normal" fill="#231f20" text-anchor="start" textLength="502.00" lengthAdjust="spacingAndGlyphs" stroke="#231f20" stroke-width="2.0">JAK2-V617F-p.V617F</text></g><rect x="244.15" y="493.10" width="3.0" height="3.0" fill="#a0002a"/><g transform="translate(249.40,495.85) scale(0.100)"><text x="0" y="0" font-size="56.00" font-weight="normal" fill="#231f20" text-anchor="start" textLength="485.00" lengthAdjust="spacingAndGlyphs" stroke="#231f20" stroke-width="2.0">ASXL1-p.C594fs*25</text></g><rect x="308.25" y="493.10" width="3.0" height="3.0" fill="#e09018"/><g transform="translate(313.50,495.85) scale(0.100)"><text x="0" y="0" font-size="56.00" font-weight="normal" fill="#231f20" text-anchor="start" textLength="390.00" lengthAdjust="spacingAndGlyphs" stroke="#231f20" stroke-width="2.0">GNAS-p.R844H</text></g><rect x="181.15" y="501.80" width="3.0" height="3.0" fill="#f0c020"/><g transform="translate(187.10,504.55) scale(0.100)"><text x="0" y="0" font-size="56.00" font-weight="normal" fill="#231f20" text-anchor="start" textLength="365.00" lengthAdjust="spacingAndGlyphs" stroke="#231f20" stroke-width="2.0">TP53-p.R248W</text></g><rect x="244.15" y="501.80" width="3.0" height="3.0" fill="#6aaa40"/><g transform="translate(249.40,504.55) scale(0.100)"><text x="0" y="0" font-size="56.00" font-weight="normal" fill="#231f20" text-anchor="start" textLength="330.00" lengthAdjust="spacingAndGlyphs" stroke="#231f20" stroke-width="2.0">IRF1-p.W246*</text></g><rect x="181.15" y="510.40" width="3.0" height="3.0" fill="#68b0e0"/><g transform="translate(187.10,513.15) scale(0.100)"><text x="0" y="0" font-size="56.00" font-weight="normal" fill="#231f20" text-anchor="start" textLength="362.00" lengthAdjust="spacingAndGlyphs" stroke="#231f20" stroke-width="2.0">TP53-p.R248Q</text></g><rect x="244.15" y="510.40" width="3.0" height="3.0" fill="#4d5568"/><g transform="translate(249.40,513.15) scale(0.100)"><text x="0" y="0" font-size="56.00" font-weight="normal" fill="#231f20" text-anchor="start" textLength="502.00" lengthAdjust="spacingAndGlyphs" stroke="#231f20" stroke-width="2.0">JAK2-V617F-p.V617F</text></g>

</svg></body></html>
